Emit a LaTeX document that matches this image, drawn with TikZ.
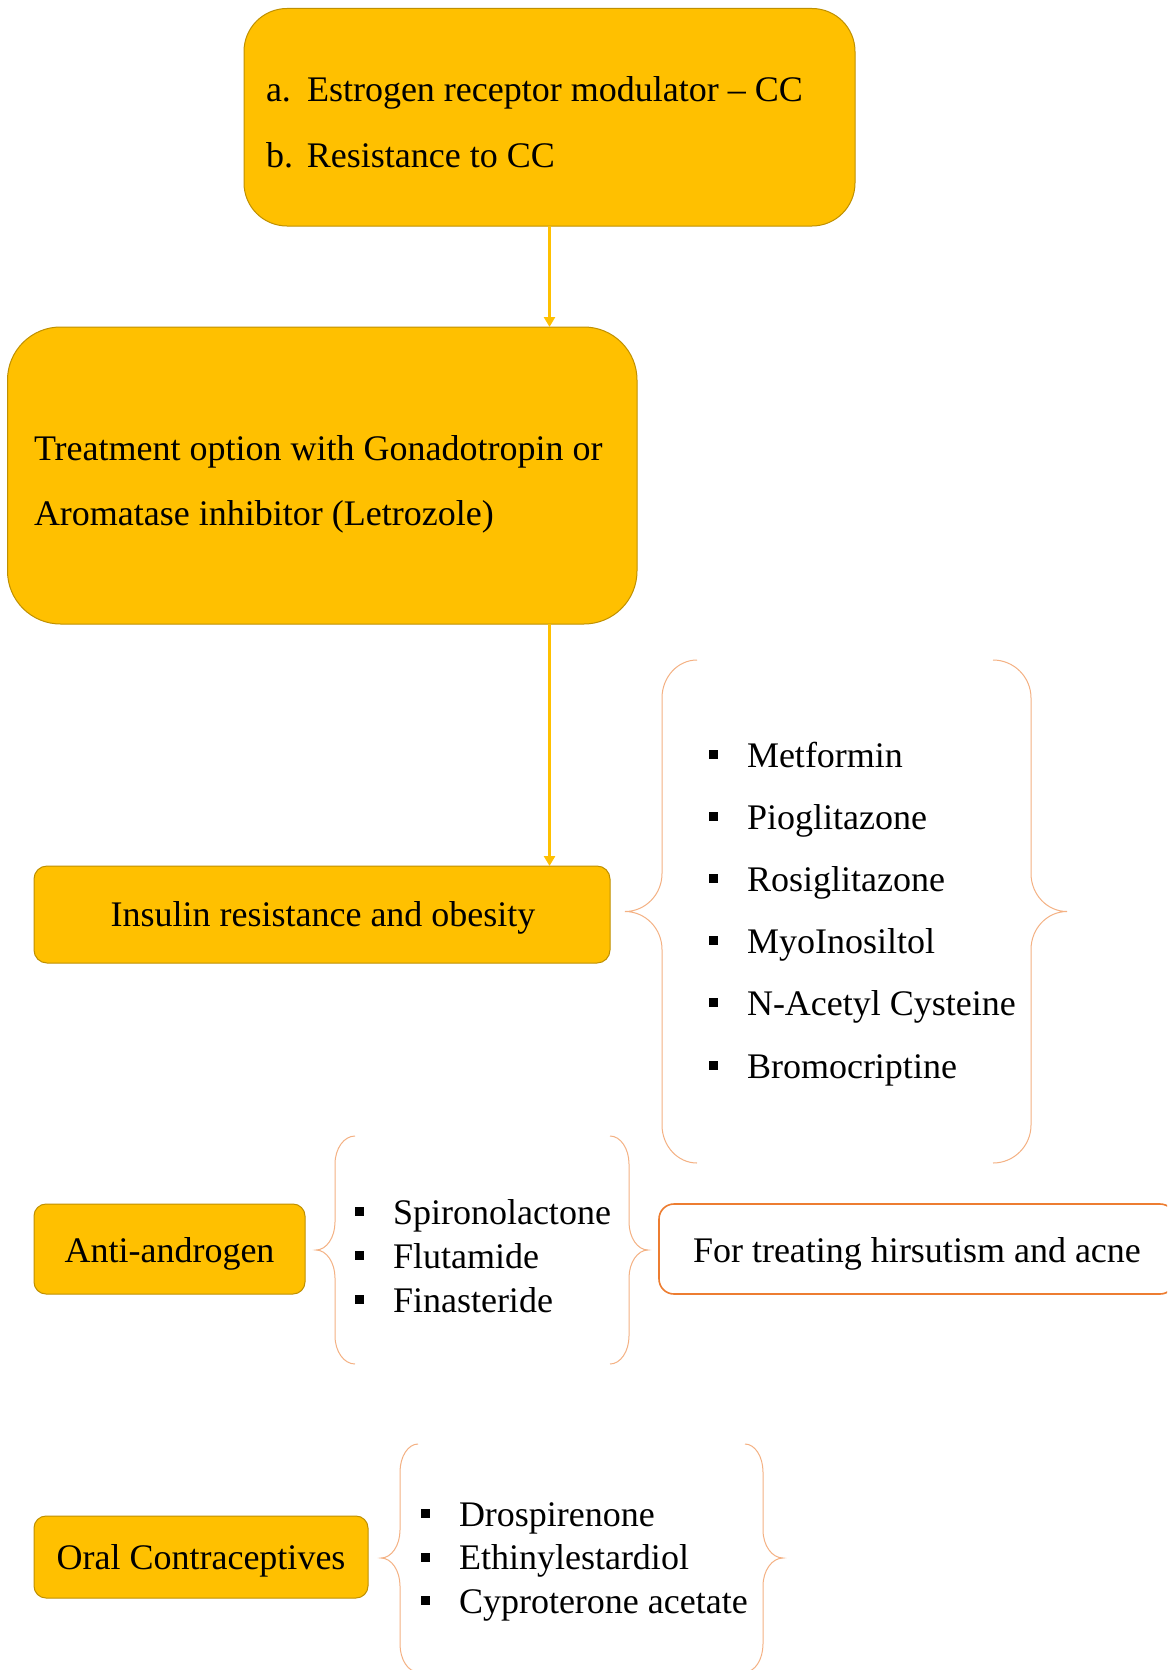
\documentclass[tikz,border=0pt]{standalone}
\usepackage{fontspec}
\setmainfont{Liberation Serif}
\usetikzlibrary{arrows.meta}
\definecolor{gold}{HTML}{FFC000}
\definecolor{goldline}{HTML}{BF9000}
\definecolor{bracecol}{HTML}{F4B183}
\definecolor{orangeline}{HTML}{ED7D31}
\tikzset{
  goldbox/.style={draw=goldline, fill=gold, line width=1pt, inner sep=0pt, outer sep=0pt},
  whitebox/.style={draw=orangeline, fill=white, line width=1.6pt, inner sep=0pt, outer sep=0pt, rounded corners=15pt},
  txt/.style={inner sep=0pt, outer sep=0pt, font=\fontsize{36}{43}\selectfont},
  flow/.style={draw=gold, line width=2.6pt, -{Triangle[width=11pt,length=10pt]}},
  bracestyle/.style={draw=bracecol, line width=1pt}
}
\newcommand{\bul}{\makebox[38pt][l]{\rule[8pt]{9pt}{9pt}}}
\newcommand{\lbl}{\makebox[41pt][l]}
% brace: ends x, vertical x, tip x, top y, bottom y, corner height
\newcommand{\drawbrace}[6]{%
  \pgfmathsetmacro{\brA}{0.448*(#1-#2)}%
  \pgfmathsetmacro{\brT}{0.448*(#3-#2)}%
  \pgfmathsetmacro{\brM}{(#4+#5)/2}%
  \pgfmathsetmacro{\brK}{0.448*#6}%
  \draw[bracestyle] (#1,#4) .. controls (#2+\brA,#4) and (#2,#4+\brK) .. (#2,#4+#6)
     -- (#2,\brM-#6) .. controls (#2,\brM-\brK) and (#2+\brT,\brM) .. (#3,\brM)
     .. controls (#2+\brT,\brM) and (#2,\brM+\brK) .. (#2,\brM+#6)
     -- (#2,#5-#6) .. controls (#2,#5-\brK) and (#2+\brA,#5) .. (#1,#5);}
\begin{document}
\begin{tikzpicture}[x=1pt,y=-1pt]
\clip (0,0) rectangle (1167,1670);
\fill[white] (0,0) rectangle (1167,1670);

% boxes
\node[goldbox, rounded corners=43pt, minimum width=611pt, minimum height=217.5pt] (top) at (549.5,117.25) {};
\node[goldbox, rounded corners=53pt, minimum width=629.5pt, minimum height=297pt] (treat) at (322.25,475.5) {};
\node[goldbox, rounded corners=13pt, minimum width=576pt, minimum height=97pt] (insulin) at (322,914.5) {};
\node[goldbox, rounded corners=12pt, minimum width=271pt, minimum height=90pt] (anti) at (169.5,1249) {};
\node[goldbox, rounded corners=12pt, minimum width=334pt, minimum height=82pt] (oral) at (201,1557) {};
\node[whitebox, minimum width=516pt, minimum height=90pt] (hirs) at (917,1249) {};

% texts
\node[txt, anchor=base west] (t1) at (266,101) {\lbl{a.}Estrogen receptor modulator – CC};
\node[txt, anchor=base west] (t2) at (266,167) {\lbl{b.}Resistance to CC};
\node[txt, anchor=base west] (t3) at (34,460) {Treatment option with Gonadotropin or};
\node[txt, anchor=base west] (t4) at (34,525) {Aromatase inhibitor (Letrozole)};
\node[txt, anchor=base] (t5) at (323,926) {Insulin resistance and obesity};
\node[txt, anchor=base] (t6) at (169.5,1262) {Anti-androgen};
\node[txt, anchor=base] (t7) at (201,1569.5) {Oral Contraceptives};
\node[txt, anchor=base west] (t8) at (693,1262) {For treating hirsutism and acne};

% list 1
\node[txt, anchor=base west] (m1) at (709,767) {\bul Metformin};
\node[txt, anchor=base west] (m2) at (709,829) {\bul Pioglitazone};
\node[txt, anchor=base west] (m3) at (709,891) {\bul Rosiglitazone};
\node[txt, anchor=base west] (m4) at (709,953) {\bul MyoInosiltol};
\node[txt, anchor=base west] (m5) at (709,1015) {\bul N-Acetyl Cysteine};
\node[txt, anchor=base west] (m6) at (709,1078) {\bul Bromocriptine};

% list 2
\node[txt, anchor=base west] (a1) at (355,1224) {\bul Spironolactone};
\node[txt, anchor=base west] (a2) at (355,1268) {\bul Flutamide};
\node[txt, anchor=base west] (a3) at (355,1312) {\bul Finasteride};

% list 3
\node[txt, anchor=base west] (o1) at (421,1526) {\bul Drospirenone};
\node[txt, anchor=base west] (o2) at (421,1569.5) {\bul Ethinylestardiol};
\node[txt, anchor=base west] (o3) at (421,1613) {\bul Cyproterone acetate};

% arrows
\draw[flow] (top.south) -- (top.south |- treat.north);
\draw[flow] (top.south |- treat.south) -- (top.south |- insulin.north);

% braces
\drawbrace{697}{662}{625}{660}{1163}{38}
\drawbrace{993}{1031}{1067}{660}{1163}{38}
\drawbrace{355}{335}{316}{1136}{1364}{28}
\drawbrace{610}{629}{648}{1136}{1364}{28}
\drawbrace{418}{400}{381}{1444}{1672}{28}
\drawbrace{745}{763}{783}{1444}{1672}{28}
\end{tikzpicture}
\end{document}
